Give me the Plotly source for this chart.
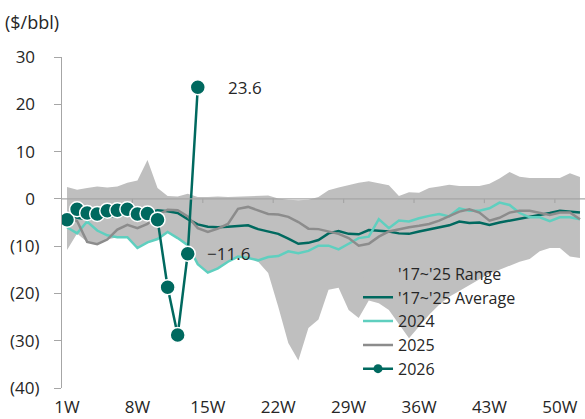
import plotly.graph_objects as go

weeks = list(range(1, 53))
tick_weeks = [1, 8, 15, 22, 29, 36, 43, 50]
tick_labels = [f"{w}W" for w in tick_weeks]
y_ticks = [30, 20, 10, 0, -10, -20, -30, -40]
y_tick_labels = ["30\u00a0", "20\u00a0", "10\u00a0", "0\u00a0", "(10)", "(20)", "(30)", "(40)"]

range_upper = [2.5, 1.9, 2.3, 2.6, 2.4, 2.6, 3.4, 3.9, 8.2, 2.3,
               0.6, 0.5, 1.1, 0.4, 0.4, 0.5, 0.4, 0.5, 0.6, 0.7,
               0.7, 0.1, -0.2, -0.3, -0.2, 0.4, 1.8, 2.4, 2.9, 3.4,
               3.7, 3.3, 2.9, 0.6, 1.4, 1.3, 2.3, 2.6, 3.0, 2.7,
               2.7, 2.7, 3.2, 4.3, 5.7, 4.7, 4.4, 4.4, 4.4, 4.4, 5.4, 4.6]
range_lower = [-10.8, -7.3, -9.1, -9.6, -8.6, -8.1, -8.1, -10.4, -9.2, -8.5,
               -7.0, -8.3, -9.8, -13.8, -15.6, -14.7, -13.3, -12.2, -12.5, -13.3,
               -15.7, -22.8, -30.5, -34.2, -27.3, -25.5, -19.2, -18.8, -23.5, -25.2,
               -21.5, -22.1, -23.5, -26.6, -29.5, -27.0, -24.5, -22.4, -20.7, -19.5,
               -18.3, -17.0, -15.8, -15.0, -14.1, -13.3, -12.7, -11.1, -10.4, -10.4, -12.2, -12.5]
avg_17_25 = [-3.2, -4.0, -4.3, -4.0, -3.8, -3.5, -3.3, -3.4, -3.0, -2.4,
             -2.6, -3.0, -4.3, -5.4, -5.9, -6.0, -5.9, -5.7, -5.6, -6.4,
             -6.9, -7.4, -8.4, -9.5, -9.3, -8.7, -7.3, -6.8, -7.4, -7.5,
             -6.6, -6.7, -6.9, -7.3, -7.4, -6.9, -6.5, -6.0, -5.6, -4.8,
             -5.1, -5.0, -5.5, -5.0, -4.6, -4.3, -3.9, -3.4, -3.0, -2.5, -2.7, -2.9]
y2024 = [-6.0, -7.3, -4.8, -6.7, -7.7, -8.1, -8.1, -10.4, -9.2, -8.5,
         -7.0, -8.3, -9.8, -13.8, -15.6, -14.7, -13.3, -12.2, -12.5, -13.0,
         -12.3, -12.1, -11.1, -11.5, -11.0, -9.9, -9.9, -10.7, -9.5, -8.3,
         -8.0, -4.3, -6.2, -4.6, -4.8, -4.1, -3.6, -3.2, -3.7, -2.0,
         -2.5, -2.5, -2.0, -0.8, -1.3, -3.0, -3.9, -3.9, -4.7, -3.9, -3.9, -4.3]
y2025 = [-3.6, -4.7, -9.1, -9.6, -8.6, -6.5, -5.5, -6.2, -5.3, -3.4,
         -2.3, -2.4, -3.7, -6.2, -7.0, -6.3, -5.3, -2.1, -1.7, -2.4,
         -3.2, -3.3, -3.8, -4.9, -6.3, -6.4, -6.9, -7.4, -8.3, -9.9,
         -9.5, -8.0, -6.9, -6.4, -6.0, -5.7, -5.3, -4.6, -3.7, -2.7,
         -2.2, -2.9, -4.6, -4.0, -2.9, -2.5, -2.5, -2.9, -3.4, -2.9, -2.9, -4.3]
weeks_2026 = list(range(1, 15))
y2026 = [-4.4, -2.2, -3.0, -3.2, -2.5, -2.4, -2.2, -3.2, -3.1, -4.4, -18.7, -28.8, -11.6, 23.6]
labelled_idx = [12, 13]

DARK = "#00695F"
LIGHT = "#5FCFBF"
GREY = "#8C8C8C"
FILL = "#BFBFBF"
AXIS = "#A6A6A6"
TEXT = "#262626"
FONT = "Open Sans"

fig = go.Figure()
fig.add_trace(go.Scatter(x=weeks, y=range_lower, mode="lines", line=dict(width=0, color=FILL),
                         showlegend=False, hoverinfo="skip"))
fig.add_trace(go.Scatter(x=weeks, y=range_upper, mode="lines", line=dict(width=0, color=FILL),
                         fill="tonexty", fillcolor=FILL, name="'17~'25 Range"))
fig.add_trace(go.Scatter(x=weeks, y=avg_17_25, mode="lines", line=dict(width=2.5, color=DARK),
                         name="'17~'25 Average"))
fig.add_trace(go.Scatter(x=weeks, y=y2024, mode="lines", line=dict(width=2.5, color=LIGHT),
                         name="2024"))
fig.add_trace(go.Scatter(x=weeks, y=y2025, mode="lines", line=dict(width=2.5, color=GREY),
                         name="2025"))
fig.add_trace(go.Scatter(x=weeks_2026, y=y2026, mode="lines+markers",
                         line=dict(width=2.5, color=DARK),
                         marker=dict(size=15, color=DARK, line=dict(width=1.5, color="white")),
                         showlegend=False, name="2026"))
fig.add_trace(go.Scatter(x=[None], y=[None], mode="lines+markers",
                         line=dict(width=2.5, color=DARK),
                         marker=dict(size=9, color=DARK), name="2026"))

for i, xs in zip(labelled_idx, [17, 28]):
    v = y2026[i]
    fig.add_annotation(x=weeks_2026[i], y=v, xref="x", yref="y",
                       text=f"{v:.1f}".replace("-", "\u2212"), showarrow=False,
                       xanchor="left", yanchor="middle", xshift=xs,
                       font=dict(size=17, color=TEXT, family=FONT))

fig.add_annotation(x=0, y=1, xref="paper", yref="paper", xanchor="left", yanchor="middle",
                   xshift=-59, yshift=35, text="($/bbl)", showarrow=False,
                   font=dict(size=18, color=TEXT, family=FONT))

# zero line and boundary tick marks
fig.add_shape(type="line", xref="paper", yref="y", x0=0, x1=1, y0=0, y1=0,
              line=dict(color=AXIS, width=1.2), layer="above")
for w in tick_weeks[1:]:
    fig.add_shape(type="line", xref="x", yref="y", x0=w - 0.5, x1=w - 0.5, y0=0, y1=-0.9,
                  line=dict(color=AXIS, width=1.2), layer="above")

fig.update_layout(
    width=585, height=419,
    margin=dict(l=62, r=0, t=57, b=31),
    paper_bgcolor="white", plot_bgcolor="white",
    font=dict(family=FONT, size=17, color=TEXT),
    showlegend=True,
    legend=dict(x=0.566, y=0.397, xanchor="left", yanchor="top", bgcolor="rgba(0,0,0,0)",
                font=dict(size=16, color=TEXT, family=FONT), tracegroupgap=0,
                traceorder="normal", itemwidth=30),
    xaxis=dict(range=[0.5, 52.5], tickmode="array", tickvals=tick_weeks, ticktext=tick_labels,
               showgrid=False, zeroline=False, showline=False, ticks="",
               ticklabelstandoff=7,
               tickfont=dict(size=17, color=TEXT, family=FONT)),
    yaxis=dict(range=[-40, 30], tickmode="array", tickvals=y_ticks, ticktext=y_tick_labels,
               showgrid=False, zeroline=False, showline=True, linecolor=AXIS, linewidth=1.2,
               ticks="outside", ticklen=7, tickcolor=AXIS, tickwidth=1.2,
               ticklabelstandoff=11,
               tickfont=dict(size=17, color=TEXT, family=FONT)),
)

fig.write_html("out.html", config={"displayModeBar": False},
               post_script="document.body.style.margin='0';")
